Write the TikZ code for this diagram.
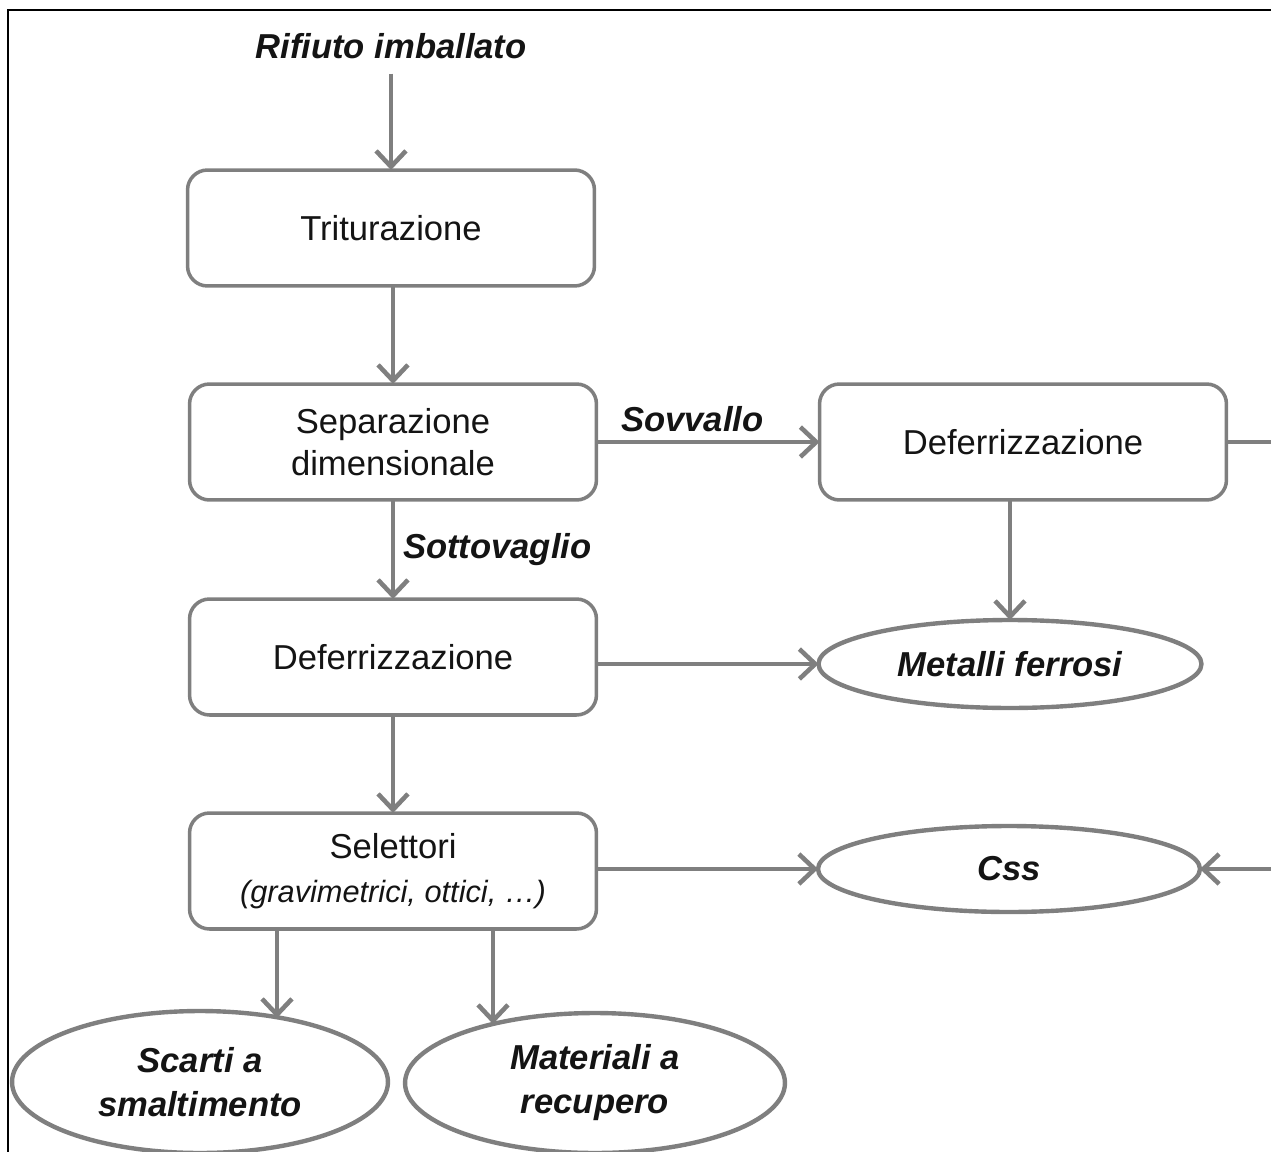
\documentclass[tikz,border=0pt]{standalone}
\usepackage{fontspec}
\setmainfont{Liberation Sans}
\usetikzlibrary{arrows.meta,shapes.geometric}

\definecolor{pftext}{RGB}{20,20,20}
\definecolor{pfline}{RGB}{127,127,127}
\definecolor{pfframe}{RGB}{0,0,0}

\newcommand\pfnote{\itshape\fontsize{17.5}{21}\selectfont}

\begin{document}
\begin{tikzpicture}[
  x=0.02cm,
  y=-0.02cm,
  >={Straight Barb[length=9pt,width=17pt]},
  every node/.style={inner sep=0pt, outer sep=0pt},
  pfText/.style={font=\fontsize{19.7}{24}\selectfont, text=pftext, align=center},
  pfOut/.style={font=\bfseries\itshape\fontsize{19.7}{25}\selectfont, text=pftext, align=center},
  pfArrow/.style={draw=pfline, line width=2.6pt, ->},
  pfStep/.style={draw=pfline, fill=white, rounded corners=0.4cm, line width=2pt,
    minimum width=8.14cm, minimum height=2.32cm},
  pfEnd/.style={draw=pfline, fill=white, ellipse, line width=2.5pt}
]

  \useasboundingbox (0,0) rectangle (1271,1152);

  % frame (runs out of the picture at right and bottom)
  \draw[pfframe, line width=1.3pt] (8,10) rectangle (1320,1200);

  \node[pfOut] (input) at (391,46) {Rifiuto imballato};

  % process steps
  \node[pfStep, pfText] (trit) at (391,228) {Triturazione};
  \node[pfStep, pfText] (sep) at (393,442) {Separazione\\dimensionale};
  \node[pfStep, pfText] (defA) at (393,657) {Deferrizzazione};
  \node[pfStep, pfText] (sel) at (393,871) {Selettori\\[1pt]{\pfnote (gravimetrici, ottici, …)}};
  \node[pfStep, pfText] (defB) at (1023,442) {Deferrizzazione};

  % outputs
  \node[pfEnd, pfOut, minimum width=7.66cm, minimum height=1.76cm] (fe) at (1010,664) {Metalli ferrosi};
  \node[pfEnd, pfOut, minimum width=7.64cm, minimum height=1.72cm] (css) at (1009,869) {Css};
  \node[pfEnd, pfOut, minimum width=7.52cm, minimum height=2.84cm] (scarti) at (200,1082) {Scarti a\\smaltimento};
  \node[pfEnd, pfOut, minimum width=7.6cm, minimum height=2.8cm] (mat) at (595,1083) {Materiali a\\recupero};

  \coordinate (edge) at (1300,442);
  \coordinate (tipS) at (277,1018);
  \coordinate (tipM) at (493,1024);

  % flows
  \draw[pfArrow, shorten <=8.5pt] (input) -- (trit);
  \draw[pfArrow] (trit.south -| sep) -- (sep);
  \draw[pfArrow] (sep) -- node[pfOut, right=0.2cm] {Sottovaglio} (defA);
  \draw[pfArrow] (sep) -- node[pfOut, above=0.2cm, pos=0.43] {Sovvallo} (defB);
  \draw[pfArrow] (defB.south -| fe.north) -- (fe.north);
  \draw[pfArrow] (defA.east |- fe.west) -- (fe.west);
  \draw[pfArrow] (defA) -- (sel);
  \draw[pfArrow] (sel.east |- css.west) -- (css.west);
  \draw[pfArrow] (defB.east) -- (edge) |- (css.east);
  \draw[pfArrow] (sel.south -| tipS) -- (tipS);
  \draw[pfArrow] (sel.south -| tipM) -- (tipM);

\end{tikzpicture}
\end{document}
